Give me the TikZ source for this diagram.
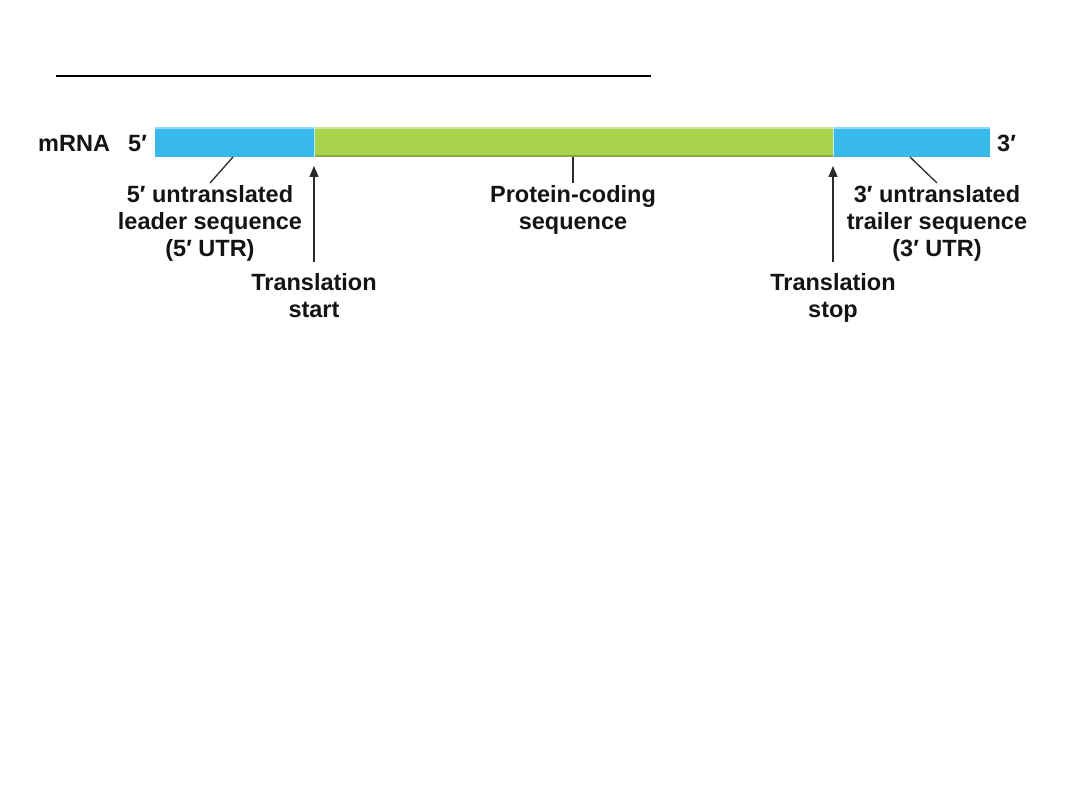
\documentclass[tikz,border=0pt]{standalone}
\usepackage{fontspec}
\setmainfont{Liberation Sans}
\usetikzlibrary{arrows.meta,calc}
\definecolor{rnablue}{HTML}{38B9EC}
\definecolor{rnagreen}{HTML}{A8D44B}
\definecolor{linegray}{HTML}{2A2A2A}
\begin{document}
\begin{tikzpicture}[x=1pt,y=-1pt,
  seg/.style={draw=none, minimum height=30pt, inner sep=0pt, outer sep=0pt, anchor=north west},
  lbl/.style={font=\bfseries\fontsize{23.5}{27}\selectfont, align=center, inner sep=0pt, text=black!92},
  lead/.style={draw=linegray, line width=1.3pt},
  pointer/.style={lead, -{Triangle[length=11pt,width=9pt]}}]
\useasboundingbox (0,0) rectangle (1080,810);
\fill[white] (0,0) rectangle (1080,810);
% top rule
\coordinate (ruleL) at (56,76);
\coordinate (ruleR) at (651,76);
\draw[line width=1.2pt, black] (ruleL) -- (ruleR);
% bar segments
\node[seg, fill=rnablue, minimum width=159pt] (utr5) at (155,127) {};
\node[seg, fill=rnagreen, minimum width=519pt] (cds) at (314,127) {};
\node[seg, fill=rnablue, minimum width=157pt] (utr3) at (833,127) {};
% highlights
\draw[rnablue!55!white, line width=1.2pt] ($(utr5.north west)+(0,1)$) -- ($(utr5.north east)+(0,1)$);
\draw[rnablue!55!white, line width=1.2pt] ($(utr3.north west)+(0,1)$) -- ($(utr3.north east)+(0,1)$);
\draw[rnagreen!55!white, line width=1.2pt] ($(cds.north west)+(0,1)$) -- ($(cds.north east)+(0,1)$);
\draw[rnagreen!80!black, line width=1.5pt] ($(cds.south west)+(0,-1)$) -- ($(cds.south east)+(0,-1)$);
\draw[white!70!rnablue, line width=1pt] (utr5.north east) -- (utr5.south east);
\draw[white!70!rnablue, line width=1pt] (utr3.north west) -- (utr3.south west);
% end labels
\node[lbl, anchor=base west] (mrna) at (38,152) {mRNA};
\node[lbl, anchor=base west] (five) at (128,152) {5′};
\node[lbl, anchor=base west] (three) at (997,152) {3′};
% region labels
\node[lbl, anchor=north] (lab5) at (210,185) {5′ untranslated\\leader sequence\\(5′ UTR)};
\node[lbl, anchor=north] (labcds) at (573,185) {Protein-coding\\sequence};
\node[lbl, anchor=north] (lab3) at (937,185) {3′ untranslated\\trailer sequence\\(3′ UTR)};
\node[lbl, anchor=north] (start) at (314,273) {Translation\\start};
\node[lbl, anchor=north] (stop) at (833,273) {Translation\\stop};
% leader lines
\draw[lead] ($(utr5.south west)+(78,0)$) -- ($(lab5.north)+(0,-2)$);
\draw[lead] (cds.south -| labcds.north) -- ($(labcds.north)+(0,-2)$);
\draw[lead] ($(utr3.south west)+(77,0)$) -- ($(lab3.north)+(0,-2)$);
% arrows
\draw[pointer, shorten <=11pt, shorten >=9pt] (start.north) -- (start.north |- utr5.south);
\draw[pointer, shorten <=11pt, shorten >=9pt] (stop.north) -- (stop.north |- utr3.south);
\end{tikzpicture}
\end{document}
